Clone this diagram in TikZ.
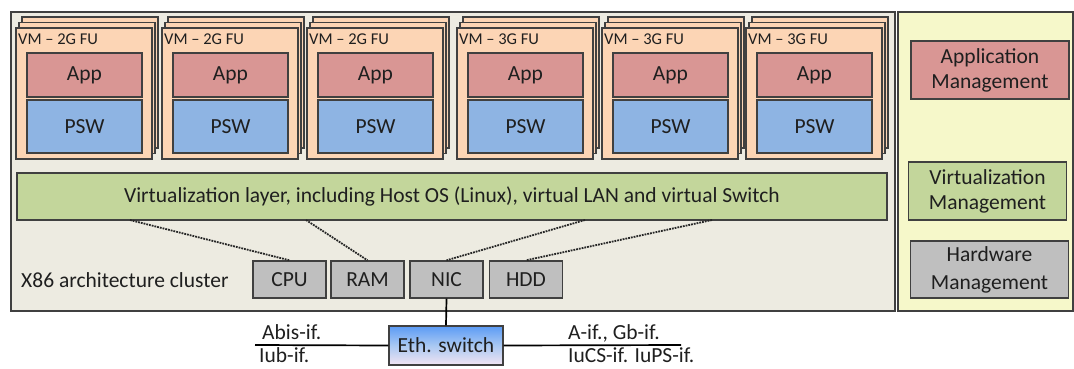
\documentclass[tikz,border=0pt]{standalone}
\usepackage{fontspec}
\setmainfont{Carlito}
\definecolor{clusterbg}{HTML}{EDEBE1}
\definecolor{mgmtbg}{HTML}{F6F8CA}
\definecolor{vmfill}{HTML}{FCD5B5}
\definecolor{appfill}{HTML}{D99694}
\definecolor{pswfill}{HTML}{8EB4E3}
\definecolor{virtfill}{HTML}{C3D69B}
\definecolor{hwfill}{HTML}{BFBFBF}
\definecolor{edge}{HTML}{404040}
\definecolor{ethtop}{HTML}{5B9BF5}
\definecolor{ethmid}{HTML}{A9C8F2}
\definecolor{ethbot}{HTML}{F2E4F2}
\begin{document}
\begin{tikzpicture}[x=1pt,y=-1pt,
  every node/.style={font=\fontsize{21.5}{25}\selectfont, text=black!88},
  box/.style={draw=edge, line width=1.4pt, inner sep=0pt, align=center},
  vm/.style={fill=vmfill, draw=edge, line width=1.4pt},
  vmbox/.style={box, fill=vmfill, minimum width=136pt, minimum height=131pt},
  vmlabel/.style={anchor=west, inner sep=0pt, font=\fontsize{16.5}{20}\selectfont},
  appbox/.style={box, fill=appfill, minimum width=115pt, minimum height=44pt},
  pswbox/.style={box, fill=pswfill, minimum width=115pt, minimum height=53pt},
  hwbox/.style={box, fill=hwfill, minimum width=73pt, minimum height=37pt},
  mgmtbox/.style={box, minimum width=158pt, minimum height=58pt},
  link/.style={densely dotted, line width=1.8pt, draw=black!85},
  wire/.style={line width=1.7pt, draw=black}]
\useasboundingbox (0,0) rectangle (1074,368);

\filldraw[fill=clusterbg, draw=edge, line width=1.4pt] (11,12) rectangle (895,311);
\filldraw[fill=mgmtbg, draw=edge, line width=1.4pt] (898,12) rectangle (1073,311);

% 2G function units
\filldraw[vm] (22,17) rectangle (158,148);
\filldraw[vm] (19,22.5) rectangle (155,153.5);
\node[vmbox] (vm1) at (84,93.5) {};
\node[vmlabel] (vm1l) at (18,39) {VM – 2G FU};
\node[appbox] (app1) at (84.5,75) {App};
\node[pswbox] (psw1) at (84.5,126.5) {PSW};

\filldraw[vm] (168,17) rectangle (304,148);
\filldraw[vm] (165,22.5) rectangle (301,153.5);
\node[vmbox] (vm2) at (230,93.5) {};
\node[vmlabel] (vm2l) at (164,39) {VM – 2G FU};
\node[appbox] (app2) at (230.5,75) {App};
\node[pswbox] (psw2) at (230.5,126.5) {PSW};

\filldraw[vm] (313,17) rectangle (449,148);
\filldraw[vm] (310,22.5) rectangle (446,153.5);
\node[vmbox] (vm3) at (375,93.5) {};
\node[vmlabel] (vm3l) at (309,39) {VM – 2G FU};
\node[appbox] (app3) at (375.5,75) {App};
\node[pswbox] (psw3) at (375.5,126.5) {PSW};

% 3G function units
\filldraw[vm] (463,17) rectangle (599,148);
\filldraw[vm] (460,22.5) rectangle (596,153.5);
\node[vmbox] (vm4) at (525,93.5) {};
\node[vmlabel] (vm4l) at (459,39) {VM – 3G FU};
\node[appbox] (app4) at (525.5,75) {App};
\node[pswbox] (psw4) at (525.5,126.5) {PSW};

\filldraw[vm] (608,17) rectangle (744,148);
\filldraw[vm] (605,22.5) rectangle (741,153.5);
\node[vmbox] (vm5) at (670,93.5) {};
\node[vmlabel] (vm5l) at (604,39) {VM – 3G FU};
\node[appbox] (app5) at (670.5,75) {App};
\node[pswbox] (psw5) at (670.5,126.5) {PSW};

\filldraw[vm] (752,17) rectangle (888,148);
\filldraw[vm] (749,22.5) rectangle (885,153.5);
\node[vmbox] (vm6) at (814,93.5) {};
\node[vmlabel] (vm6l) at (748,39) {VM – 3G FU};
\node[appbox] (app6) at (814.5,75) {App};
\node[pswbox] (psw6) at (814.5,126.5) {PSW};

\node[box, fill=virtfill, minimum width=870pt, minimum height=47pt] (virt) at (452,196.5)
  {Virtualization layer, including Host OS (Linux), virtual LAN and virtual Switch};

\node[anchor=west, inner sep=0pt] (x86) at (21,280) {X86 architecture cluster};
\node[hwbox] (cpu) at (289.5,279.5) {CPU};
\node[hwbox] (ram) at (367.5,279.5) {RAM};
\node[hwbox] (nic) at (446.5,279.5) {NIC};
\node[hwbox] (hdd) at (526,279.5) {HDD};

\coordinate (vcpu) at (130,220);
\coordinate (vram) at (306,220);
\coordinate (vnic) at (585,220);
\coordinate (vhdd) at (712,220);
\draw[link] (vcpu) -- (cpu.north);
\draw[link] (vram) -- (ram.north);
\draw[link] (vnic) -- (nic.north);
\draw[link] (vhdd) -- (hdd.north);

\node[box, top color=ethtop, bottom color=ethbot, middle color=ethmid,
  minimum width=114pt, minimum height=39pt] (eth) at (446,345.5) {Eth. switch};
\draw[wire] (nic.south) -- (eth.north);
\coordinate (wl) at (255,345);
\coordinate (wr) at (681,345);
\draw[wire] (wl) -- (eth.west);
\draw[wire] (eth.east) -- (wr);

\node[anchor=west, inner sep=0pt] (abis) at (262,332) {Abis-if.};
\node[anchor=west, inner sep=0pt] (iub) at (259,355.5) {Iub-if.};
\node[anchor=west, inner sep=0pt] (aif) at (568,333) {A-if., Gb-if.};
\node[anchor=west, inner sep=0pt] (iucs) at (568,355.5) {IuCS-if. IuPS-if.};

% management
\node[mgmtbox, fill=appfill] (appm) at (990,70) {Application\\Management};
\node[mgmtbox, fill=virtfill] (virtm) at (987.5,191) {Virtualization\\Management};
\node[mgmtbox, fill=hwfill, minimum height=57pt, font=\fontsize{21.5}{28}\selectfont] (hwm) at (989.5,269.5) {Hardware\\Management};
\end{tikzpicture}
\end{document}
